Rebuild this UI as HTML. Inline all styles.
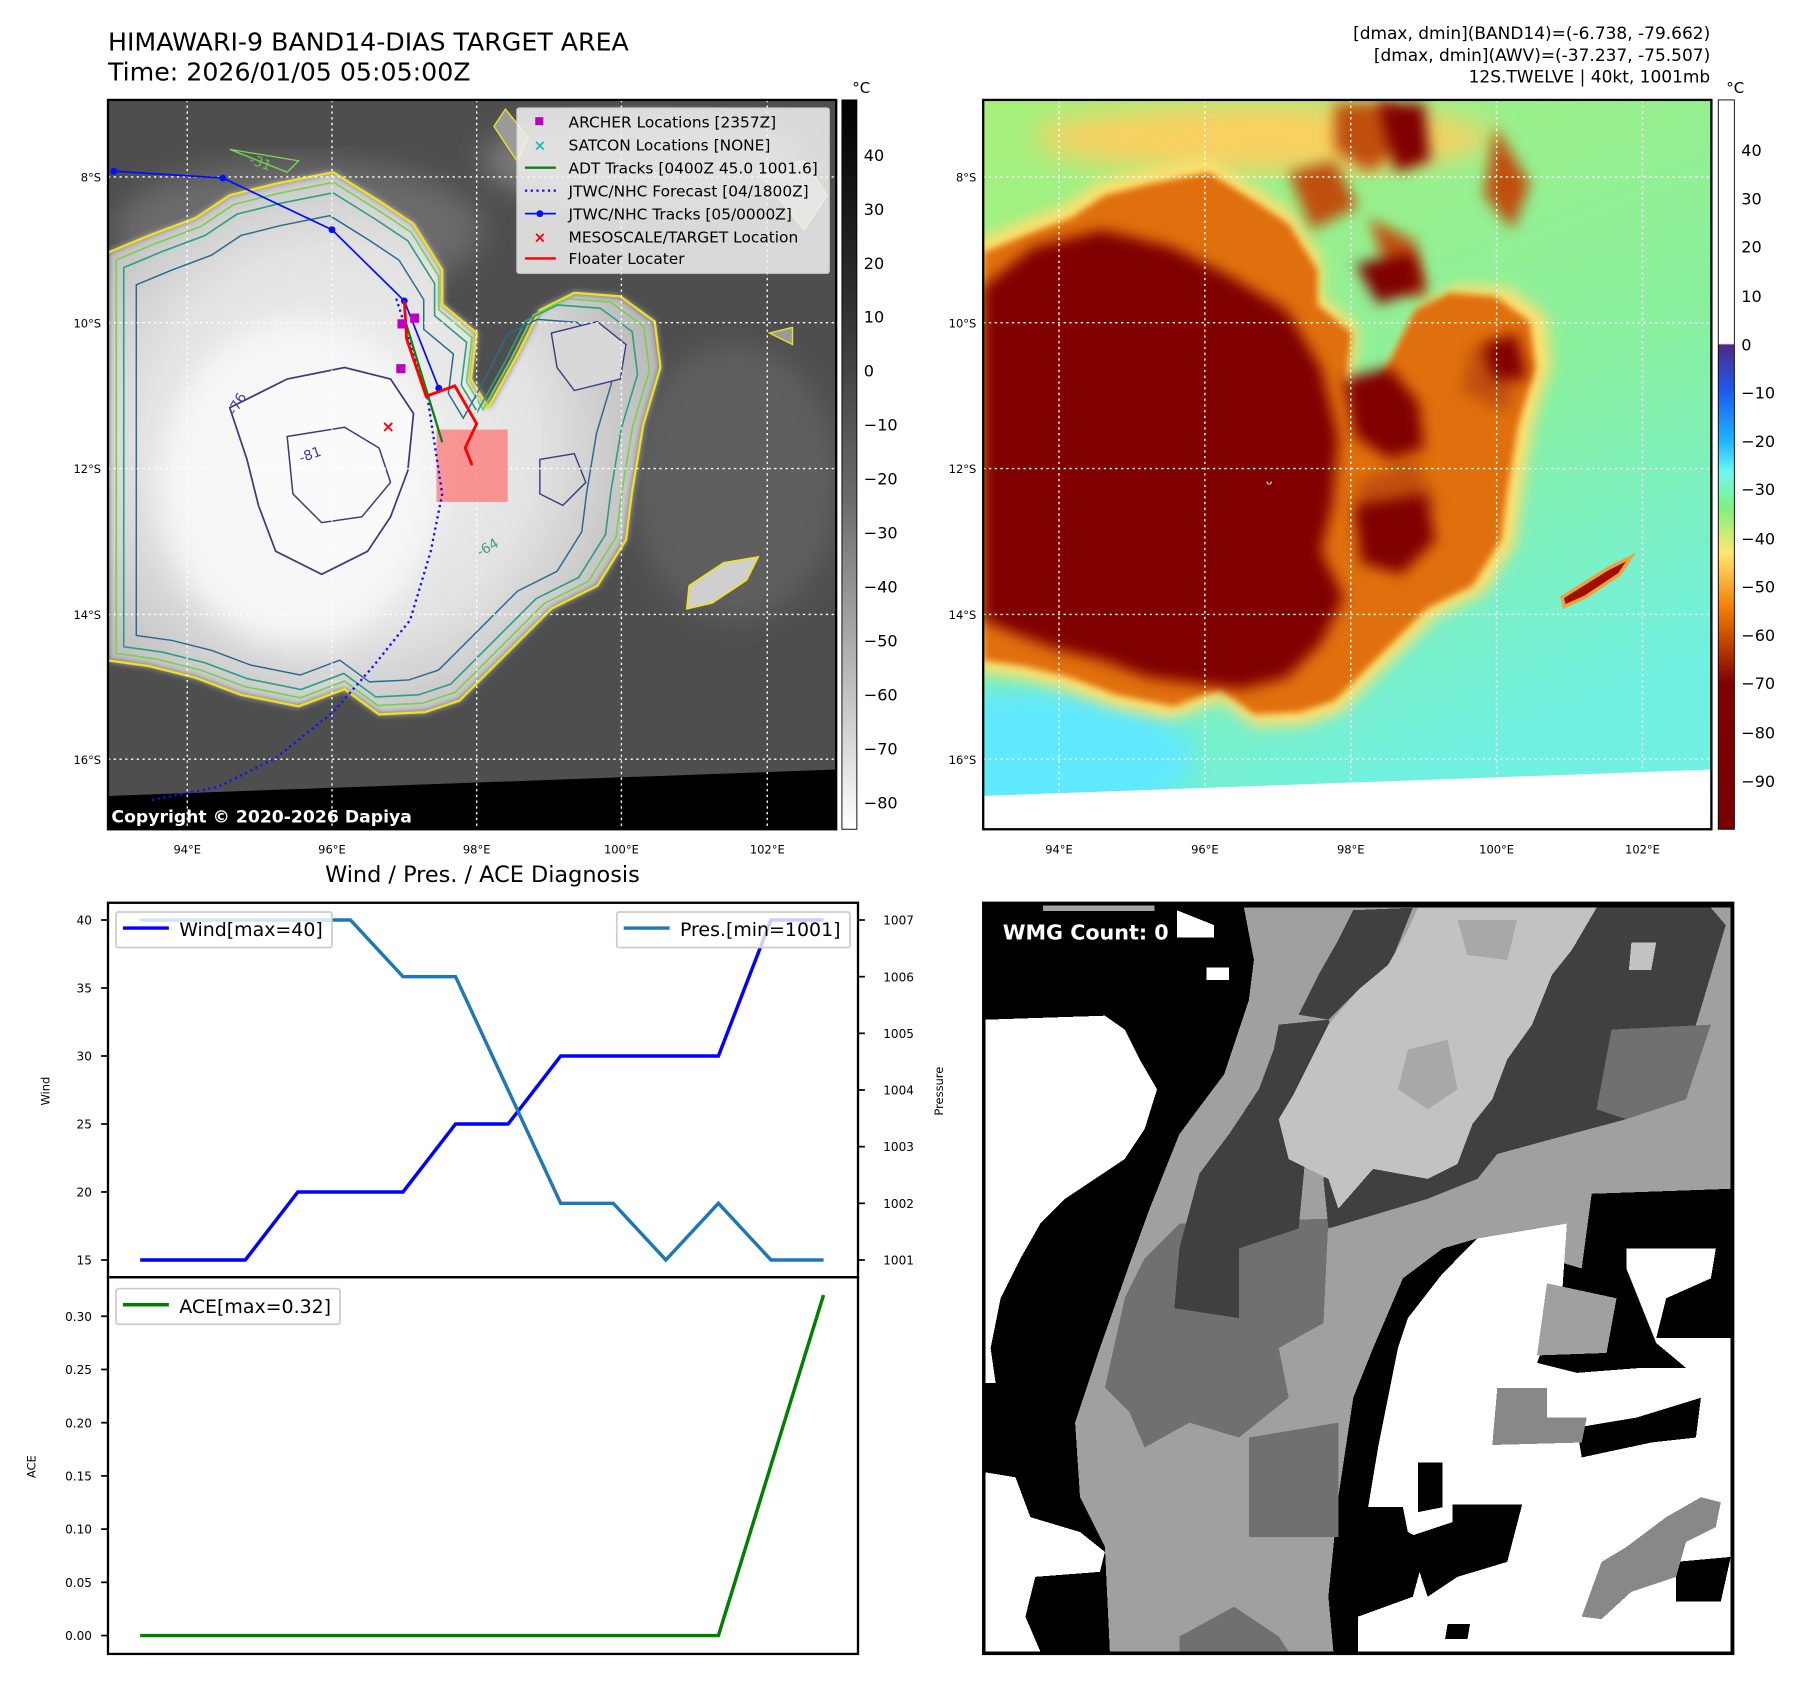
<!DOCTYPE html>
<html><head><meta charset="utf-8"><style>
html,body{margin:0;padding:0;background:#fff}
svg{display:block}
text{font-family:"DejaVu Sans","Liberation Sans",sans-serif}
</style></head><body>
<svg id="fig" width="1801" height="1690" viewBox="0 0 1568 1471.4" xmlns="http://www.w3.org/2000/svg">
<defs>
<filter id="blur3"><feGaussianBlur stdDeviation="3"/></filter>
<filter id="blur6"><feGaussianBlur stdDeviation="6"/></filter>
<filter id="blur12"><feGaussianBlur stdDeviation="12"/></filter>
<radialGradient id="cloudG" cx="0.42" cy="0.5" r="0.6">
<stop offset="0" stop-color="#f4f4f4"/><stop offset="0.6" stop-color="#e2e2e2"/><stop offset="1" stop-color="#b8b8b8"/></radialGradient>
<linearGradient id="cb1" x1="0" y1="0" x2="0" y2="1">
<stop offset="0" stop-color="#000"/><stop offset="0.25" stop-color="#2a2a2a"/><stop offset="0.55" stop-color="#6c6c6c"/><stop offset="1" stop-color="#fff"/></linearGradient>
<linearGradient id="cb2" x1="0" y1="0" x2="0" y2="1">
<stop offset="0" stop-color="#fff"/><stop offset="0.334" stop-color="#fff"/>
<stop offset="0.336" stop-color="#50288a"/><stop offset="0.40" stop-color="#1a5cf0"/>
<stop offset="0.47" stop-color="#20b8ff"/><stop offset="0.51" stop-color="#70f8f0"/>
<stop offset="0.56" stop-color="#80f080"/><stop offset="0.62" stop-color="#ffe870"/>
<stop offset="0.70" stop-color="#f07a00"/><stop offset="0.80" stop-color="#800000"/><stop offset="1" stop-color="#780000"/></linearGradient>
<linearGradient id="bg2" x1="0" y1="0" x2="0.4" y2="1">
<stop offset="0" stop-color="#a8f07a"/><stop offset="0.6" stop-color="#88f0a0"/><stop offset="1" stop-color="#70f0e0"/></linearGradient>
<clipPath id="clip1"><rect x="94" y="87" width="634" height="635"/></clipPath>
<clipPath id="clip2"><rect x="856" y="87" width="634" height="635"/></clipPath>
<path id="cloud" d="M94,220 L130,205 L170,190 L200,170 L240,160 L290,150 L330,175 L360,195 L385,235 L385,265 L415,290 L410,330 L425,355 L450,310 L470,270 L500,255 L540,258 L570,280 L575,320 L560,370 L550,430 L545,470 L520,510 L480,530 L450,560 L420,590 L400,610 L370,620 L330,622 L300,600 L260,615 L210,605 L170,590 L130,580 L94,575 Z"/>
</defs>

<!-- ============ MAP 1 ============ -->
<text x="94" y="44" font-size="22">HIMAWARI-9 BAND14-DIAS TARGET AREA</text>
<text x="94" y="70" font-size="22">Time: 2026/01/05 05:05:00Z</text>
<g clip-path="url(#clip1)">
<rect x="94" y="87" width="634" height="635" fill="#4e4e4e"/>
<ellipse cx="260" cy="200" rx="160" ry="60" fill="#6a6a6a" filter="url(#blur12)"/>
<ellipse cx="640" cy="420" rx="90" ry="120" fill="#5e5e5e" filter="url(#blur12)"/>
<ellipse cx="560" cy="140" rx="140" ry="40" fill="#7a7a7a" filter="url(#blur12)"/>
<use href="#cloud" fill="url(#cloudG)" filter="url(#blur3)"/>
<ellipse cx="260" cy="420" rx="120" ry="140" fill="#f6f6f6" filter="url(#blur12)"/>
<use href="#cloud" fill="none" stroke="#f0e020" stroke-width="2"/>
<use href="#cloud" fill="none" stroke="#7ad050" stroke-width="1.5" transform="translate(300 400) scale(0.965) translate(-300 -400)"/>
<use href="#cloud" fill="none" stroke="#2aa080" stroke-width="1.5" transform="translate(290 405) scale(0.93) translate(-290 -405)"/>
<use href="#cloud" fill="none" stroke="#2a6a90" stroke-width="1.5" transform="translate(270 420) scale(0.86) translate(-270 -420)"/>
<path d="M200,355 L250,330 L300,320 L340,330 L360,360 L355,410 L340,450 L320,480 L280,500 L240,480 L225,440 L215,400 Z" fill="#fafafa" stroke="#3a3a80" stroke-width="1.5"/>
<path d="M250,380 L300,372 L330,390 L340,420 L315,450 L280,455 L255,430 Z" fill="none" stroke="#3a3a80" stroke-width="1.3"/>
<path d="M480,290 L520,280 L545,300 L540,330 L500,340 L485,320 Z" fill="#d8d8d8" stroke="#3a3a80" stroke-width="1.2"/>
<path d="M470,400 L500,395 L510,420 L490,440 L470,430 Z" fill="none" stroke="#3a3a80" stroke-width="1.2"/>
<path d="M600,510 L630,490 L660,485 L650,505 L620,525 L598,530 Z" fill="#cfcfcf" stroke="#f0e020" stroke-width="1.5"/>
<path d="M430,110 L440,95 L460,120 L450,140 Z M660,150 L700,140 L720,170 L700,200 Z M670,290 L690,285 L690,300 Z" fill="#9a9a9a" stroke="#f0e020" stroke-width="1.2"/>
<path d="M200,130 L260,140 L250,150 Z" fill="none" stroke="#7ad050" stroke-width="1.2"/>
<polygon points="94,693 728,670 728,722 94,722" fill="#000"/>
<g stroke="#fff" stroke-width="1.2" stroke-dasharray="2,3">
<line x1="163" y1="87" x2="163" y2="722"/><line x1="289" y1="87" x2="289" y2="722"/><line x1="415" y1="87" x2="415" y2="722"/><line x1="541" y1="87" x2="541" y2="722"/><line x1="668" y1="87" x2="668" y2="722"/>
<line x1="94" y1="154" x2="728" y2="154"/><line x1="94" y1="281" x2="728" y2="281"/><line x1="94" y1="408" x2="728" y2="408"/><line x1="94" y1="535" x2="728" y2="535"/><line x1="94" y1="661" x2="728" y2="661"/>
</g>
<g font-size="12" fill="#4040a0"><text x="205" y="362" transform="rotate(-60 205 362)">-76</text><text x="262" y="403" transform="rotate(-20 262 403)">-81</text><text x="418" y="485" fill="#40a080" transform="rotate(-30 418 485)">-64</text><text x="216" y="142" fill="#70c060" transform="rotate(20 216 142)">-31</text></g>
<rect x="380" y="374" width="62" height="63" fill="rgba(255,90,90,0.6)"/>
<polyline points="345,260 372,345 385,430 375,480 357,540 325,580 290,620 240,660 190,685 130,697" fill="none" stroke="#1010ff" stroke-width="2" stroke-dasharray="2,3"/>
<polyline points="99,149 194,155 289,200 352,262 382,338" fill="none" stroke="#0010ff" stroke-width="1.5"/>
<g fill="#0010ff"><circle cx="99" cy="149" r="3"/><circle cx="194" cy="155" r="3"/><circle cx="289" cy="200" r="3"/><circle cx="352" cy="262" r="3"/><circle cx="382" cy="338" r="3"/></g>
<line x1="353" y1="280" x2="385" y2="385" stroke="#108010" stroke-width="2"/>
<polyline points="352,262 354,295 371,345 396,336 415,369 405,390 411,405" fill="none" stroke="#ff0000" stroke-width="2.5"/>
<g fill="#c000c0"><rect x="346" y="278" width="8" height="8"/><rect x="357" y="273" width="8" height="8"/><rect x="345" y="317" width="8" height="8"/></g>
<text x="338" y="376" font-size="14" fill="#ff0000" text-anchor="middle" font-weight="bold">×</text>
</g>
<rect x="94" y="87" width="634" height="635" fill="none" stroke="#000" stroke-width="2"/>
<text x="97" y="716" font-size="15" font-weight="bold" fill="#fff">Copyright © 2020-2026 Dapiya</text>
<g>
<rect x="450" y="94" width="272" height="144" fill="#f2f2f2" fill-opacity="0.85" stroke="#ccc" rx="2"/>
<g font-size="13.4" fill="#000">
<rect x="466" y="102" width="7" height="7" fill="#c000c0"/><text x="495" y="111">ARCHER Locations [2357Z]</text>
<text x="470" y="131" fill="#10c0c0" font-size="13" text-anchor="middle" font-weight="bold">×</text><text x="495" y="131">SATCON Locations [NONE]</text>
<line x1="457" y1="146" x2="484" y2="146" stroke="#108010" stroke-width="2"/><text x="495" y="151">ADT Tracks [0400Z 45.0 1001.6]</text>
<line x1="457" y1="166" x2="484" y2="166" stroke="#1010ff" stroke-width="2" stroke-dasharray="2,3"/><text x="495" y="171">JTWC/NHC Forecast [04/1800Z]</text>
<line x1="457" y1="186" x2="484" y2="186" stroke="#0010ff" stroke-width="1.5"/><circle cx="470" cy="186" r="3" fill="#0010ff"/><text x="495" y="191">JTWC/NHC Tracks [05/0000Z]</text>
<text x="470" y="211" fill="#ff0000" font-size="13" text-anchor="middle" font-weight="bold">×</text><text x="495" y="211">MESOSCALE/TARGET Location</text>
<line x1="457" y1="225" x2="484" y2="225" stroke="#ff0000" stroke-width="2"/><text x="495" y="230">Floater Locater</text>
</g></g>
<g font-size="10" fill="#000" text-anchor="end">
<text x="88" y="158">8°S</text><text x="88" y="285">10°S</text><text x="88" y="412">12°S</text><text x="88" y="539">14°S</text><text x="88" y="665">16°S</text></g>
<g font-size="10" fill="#000" text-anchor="middle">
<text x="163" y="743">94°E</text><text x="289" y="743">96°E</text><text x="415" y="743">98°E</text><text x="541" y="743">100°E</text><text x="668" y="743">102°E</text></g>
<rect x="733" y="87" width="13" height="635" fill="url(#cb1)" stroke="#000" stroke-width="0.8"/>
<text x="742" y="81" font-size="13">°C</text>
<g font-size="14" fill="#000">
<text x="752" y="140">40</text><text x="752" y="187">30</text><text x="752" y="234">20</text><text x="752" y="281">10</text><text x="752" y="328">0</text><text x="752" y="375">−10</text><text x="752" y="422">−20</text><text x="752" y="469">−30</text><text x="752" y="516">−40</text><text x="752" y="563">−50</text><text x="752" y="610">−60</text><text x="752" y="657">−70</text><text x="752" y="704">−80</text></g>

<!-- ============ MAP 2 ============ -->
<g font-size="14.8" fill="#000" text-anchor="end">
<text x="1489" y="34">[dmax, dmin](BAND14)=(-6.738, -79.662)</text>
<text x="1489" y="53">[dmax, dmin](AWV)=(-37.237, -75.507)</text>
<text x="1489" y="72">12S.TWELVE | 40kt, 1001mb</text></g>
<g clip-path="url(#clip2)">
<rect x="856" y="87" width="634" height="635" fill="url(#bg2)"/>
<ellipse cx="900" cy="660" rx="140" ry="60" fill="#60e8ff" filter="url(#blur12)"/>
<ellipse cx="1100" cy="120" rx="200" ry="30" fill="#f8d060" filter="url(#blur12)"/>
<g transform="translate(762 0)">
<use href="#cloud" fill="#ffe070" filter="url(#blur6)" transform="translate(300 400) scale(1.05) translate(-300 -400)"/>
<use href="#cloud" fill="#e07010" filter="url(#blur3)"/>
<path d="M400,90 L450,90 L470,120 L430,150 L400,130 Z M430,190 L470,210 L480,260 L450,250 Z M540,110 L570,160 L555,200 L530,170 Z M420,420 L470,400 L490,440 L460,470 L420,460 Z M520,300 L560,320 L550,360 L510,340 Z M360,150 L400,140 L420,180 L380,200 Z" fill="#c05008" filter="url(#blur6)"/>
</g>
<path d="M856,250 L900,215 L960,200 L1020,215 L1070,240 L1120,270 L1150,320 L1165,380 L1160,440 L1150,480 L1170,520 L1150,560 L1120,590 L1080,600 L1040,595 L1000,590 L960,575 L920,565 L880,550 L856,540 Z" fill="#800000" filter="url(#blur6)"/>
<path d="M1170,330 L1210,320 L1235,350 L1240,390 L1210,400 L1180,380 Z M1180,440 L1240,430 L1250,470 L1220,500 L1185,490 Z M1200,90 L1240,90 L1245,140 L1215,150 Z M1180,230 L1230,220 L1240,250 L1200,265 Z M1290,300 L1320,290 L1330,330 L1300,330 Z" fill="#800000" filter="url(#blur6)"/>
<path d="M1360,520 L1400,495 L1420,485 L1410,500 L1380,520 L1362,528 Z" fill="#a01000" stroke="#f0a040" stroke-width="3"/>
<polygon points="856,693 1490,670 1490,722 856,722" fill="#fff"/>
<g stroke="#fff" stroke-width="1.2" stroke-dasharray="2,3">
<line x1="922" y1="87" x2="922" y2="722"/><line x1="1049" y1="87" x2="1049" y2="722"/><line x1="1176" y1="87" x2="1176" y2="722"/><line x1="1303" y1="87" x2="1303" y2="722"/><line x1="1430" y1="87" x2="1430" y2="722"/>
<line x1="856" y1="154" x2="1490" y2="154"/><line x1="856" y1="281" x2="1490" y2="281"/><line x1="856" y1="408" x2="1490" y2="408"/><line x1="856" y1="535" x2="1490" y2="535"/><line x1="856" y1="661" x2="1490" y2="661"/>
</g>
<text x="1105" y="422" fill="#fff" font-size="9" text-anchor="middle">ᴗ</text>
</g>
<rect x="856" y="87" width="634" height="635" fill="none" stroke="#000" stroke-width="2"/>
<g font-size="10" fill="#000" text-anchor="end">
<text x="850" y="158">8°S</text><text x="850" y="285">10°S</text><text x="850" y="412">12°S</text><text x="850" y="539">14°S</text><text x="850" y="665">16°S</text></g>
<g font-size="10" fill="#000" text-anchor="middle">
<text x="922" y="743">94°E</text><text x="1049" y="743">96°E</text><text x="1176" y="743">98°E</text><text x="1303" y="743">100°E</text><text x="1430" y="743">102°E</text></g>
<rect x="1496" y="87" width="14" height="635" fill="url(#cb2)" stroke="#000" stroke-width="0.8"/>
<text x="1503" y="81" font-size="13">°C</text>
<g font-size="14" fill="#000">
<text x="1516" y="136">40</text><text x="1516" y="178">30</text><text x="1516" y="220">20</text><text x="1516" y="263">10</text><text x="1516" y="305">0</text><text x="1516" y="347">−10</text><text x="1516" y="389">−20</text><text x="1516" y="431">−30</text><text x="1516" y="474">−40</text><text x="1516" y="516">−50</text><text x="1516" y="558">−60</text><text x="1516" y="600">−70</text><text x="1516" y="643">−80</text><text x="1516" y="685">−90</text></g>

<!-- ============ WMG image ============ -->
<svg x="856" y="786" width="653" height="654" viewBox="5 5 1510 1510" preserveAspectRatio="none" shape-rendering="crispEdges">
<rect x="5" y="5" width="1510" height="1510" fill="#000"/>
<polygon points="10,240 250,232 290,260 320,320 355,380 330,460 290,520 230,560 170,600 120,650 80,720 40,800 20,900 30,970 10,970" fill="#fff"/>
<polygon points="10,1150 70,1160 100,1240 200,1270 250,1310 240,1350 110,1360 90,1440 120,1510 10,1510" fill="#fff"/>
<polygon points="530,15 1510,15 1510,580 1230,590 1210,740 1000,680 930,700 850,760 790,900 750,1000 720,1200 700,1400 710,1510 260,1510 250,1300 200,1200 190,1050 240,900 300,730 340,620 400,470 490,350 540,200 550,120" fill="#a0a0a0"/>
<polygon points="330,720 400,650 700,640 690,850 600,900 620,1000 520,1080 420,1050 330,1100 300,1030 250,980 290,800" fill="#707070"/>
<polygon points="540,1080 720,1050 720,1280 540,1280" fill="#707070"/>
<polygon points="400,1480 510,1420 600,1480 620,1510 400,1510" fill="#707070"/>
<polygon points="1160,15 1470,15 1500,50 1440,250 1410,400 1300,440 1150,480 1040,510 1000,560 900,600 700,660 690,560 720,480 800,420 880,300 1000,170 1100,100" fill="#404040"/>
<polygon points="600,250 700,240 720,300 660,450 640,660 520,700 520,840 390,820 400,700 440,550 500,470 560,380 590,300" fill="#404040"/>
<polygon points="750,20 870,15 820,140 760,180 700,240 640,230 680,150 720,80" fill="#404040"/>
<polygon points="1270,260 1470,250 1420,400 1300,440 1240,420" fill="#707070"/>
<polygon points="880,15 1240,15 1190,100 1150,150 1110,250 1060,320 1030,400 990,450 960,530 900,560 790,540 720,620 700,560 620,520 600,440 630,390 700,250 760,180 820,130 860,60" fill="#c2c2c2"/>
<polygon points="860,300 940,280 960,380 900,420 840,380" fill="#a8a8a8"/>
<polygon points="960,40 1080,40 1060,120 980,110" fill="#a8a8a8"/>
<polygon points="1310,85 1360,85 1350,140 1305,140" fill="#c2c2c2"/>
<polygon points="1000,680 1180,650 1170,800 1120,930 1200,950 1330,940 1510,940 1510,1510 760,1510 760,1440 870,1400 900,1290 860,1270 850,1220 780,1220 800,1100 840,900 860,840 930,750" fill="#fff"/>
<polygon points="1300,700 1480,700 1470,760 1380,800 1360,880 1510,880 1510,940 1420,940 1360,890 1300,740" fill="#fff"/>
<polygon points="1140,770 1280,800 1260,910 1120,915" fill="#a0a0a0"/>
<polygon points="880,1130 930,1130 930,1220 880,1230" fill="#000"/>
<polygon points="950,1215 1090,1215 1060,1330 960,1360 900,1400 860,1280 950,1250" fill="#000"/>
<polygon points="1200,1060 1320,1040 1450,1000 1440,1080 1350,1090 1210,1120" fill="#000"/>
<polygon points="1400,1330 1510,1320 1490,1410 1400,1410" fill="#000"/>
<polygon points="940,1455 985,1455 980,1485 935,1485" fill="#000"/>
<polygon points="1040,980 1140,980 1140,1040 1220,1040 1210,1090 1030,1095" fill="#888"/>
<polygon points="1210,1440 1250,1330 1300,1300 1380,1240 1450,1200 1490,1210 1480,1260 1420,1290 1400,1360 1310,1390 1250,1445" fill="#888"/>
<polygon points="395,20 470,50 470,75 395,75" fill="#fff"/>
<polygon points="455,135 500,135 500,160 455,160" fill="#fff"/>
<polygon points="125,10 350,10 350,22 125,22" fill="#a0a0a0"/>
</svg>
<rect x="856" y="786" width="653" height="654" fill="none" stroke="#000" stroke-width="2"/>
<text x="873" y="818" font-size="18" font-weight="bold" fill="#fff">WMG Count: 0</text>

<!-- ============ CHART ============ -->
<text x="420" y="768" font-size="19.5" text-anchor="middle">Wind / Pres. / ACE Diagnosis</text>
<g id="chart"></g>
</svg>
<script>
const idx = [0,1,2,3,4,5,6,7,8,9,10,11,12,13];
const windVals = [15,15,15,20,20,20,25,25,30,30,30,30,40,40];
const presVals = [1007,1007,1007,1007,1007,1006,1006,1004,1002,1002,1001,1002,1001,1001];
const aceVals = [0,0,0,0,0,0,0,0,0,0,0,0,0.16,0.32];
const windTicks = [15,20,25,30,35,40];
const presTicks = [1001,1002,1003,1004,1005,1006,1007];
const aceTicks = [0,0.05,0.10,0.15,0.20,0.25,0.30];

const NS = 'http://www.w3.org/2000/svg';
const g = document.getElementById('chart');
const X0 = 94, X1 = 747, TOP = 786, MID = 1112, BOT = 1440;
function xs(i){ return 122 + i * (717 - 122) / (idx.length - 1); }
function yWind(v){ return 1097 - (v - 15) * 296 / 25; }
function yPres(p){ return 1097 - (p - 1001) * 296 / 6; }
function yAce(v){ return 1424 - v * 278 / 0.30; }
function mk(tag, attrs, parent){
  const e = document.createElementNS(NS, tag);
  for (const k in attrs) e.setAttribute(k, attrs[k]);
  (parent || g).appendChild(e);
  return e;
}
function txt(s, x, y, size, anchor, extra){
  const t = mk('text', Object.assign({x:x, y:y, 'font-size':size, 'text-anchor':anchor||'start'}, extra||{}));
  t.textContent = s;
  return t;
}
mk('rect', {x:X0, y:TOP, width:X1-X0, height:MID-TOP, fill:'#fff'});
mk('rect', {x:X0, y:MID, width:X1-X0, height:BOT-MID, fill:'#fff'});

windTicks.forEach(v => {
  const y = yWind(v);
  mk('line', {x1:X0-6, y1:y, x2:X0, y2:y, stroke:'#000', 'stroke-width':1.5});
  const t = txt(String(v), 80, y+4, 10.5, 'end');
  
  
});
presTicks.forEach(p => {
  const y = yPres(p);
  mk('line', {x1:X1, y1:y, x2:X1+6, y2:y, stroke:'#000', 'stroke-width':1.5});
  const t = txt(String(p), 769, y+4, 10.5, 'start');
  
  
});
aceTicks.forEach(v => {
  const y = yAce(v);
  mk('line', {x1:X0-6, y1:y, x2:X0, y2:y, stroke:'#000', 'stroke-width':1.5});
  const t = txt(v.toFixed(2), 80, y+4, 10.5, 'end');
  
  
});
const wl = txt('Wind', 43, 950, 10, 'middle', {transform:'rotate(-90 43 950)'});


const pl = txt('Pressure', 821, 950, 10, 'middle', {transform:'rotate(-90 821 950)'});


const al = txt('ACE', 31, 1277, 10, 'middle', {transform:'rotate(-90 31 1277)'});



const wp = mk('polyline', {points: idx.map(i => xs(i)+','+yWind(windVals[i])).join(' '), fill:'none', stroke:'#0000ff', 'stroke-width':3});


const pp = mk('polyline', {points: idx.map(i => xs(i)+','+yPres(presVals[i])).join(' '), fill:'none', stroke:'#1f77b4', 'stroke-width':3});


const ap = mk('polyline', {points: idx.map(i => xs(i)+','+yAce(aceVals[i])).join(' '), fill:'none', stroke:'#008000', 'stroke-width':3});



const lw = mk('g', {});


mk('rect', {x:101, y:794, width:188, height:31, fill:'#fff', 'fill-opacity':0.8, stroke:'#ccc', 'stroke-width':1.5, rx:2}, lw);
mk('line', {x1:107, y1:808, x2:147, y2:808, stroke:'#0000ff', 'stroke-width':3}, lw);
const wt = mk('text', {x:156, y:815, 'font-size':16.5}, lw); wt.textContent = 'Wind[max=' + Math.max(...windVals) + ']';
const lp = mk('g', {});


mk('rect', {x:537, y:794, width:203, height:31, fill:'#fff', 'fill-opacity':0.8, stroke:'#ccc', 'stroke-width':1.5, rx:2}, lp);
mk('line', {x1:543, y1:808, x2:583, y2:808, stroke:'#1f77b4', 'stroke-width':3}, lp);
const pt = mk('text', {x:592, y:815, 'font-size':16.5}, lp); pt.textContent = 'Pres.[min=' + Math.min(...presVals) + ']';
const la = mk('g', {});


mk('rect', {x:101, y:1122, width:195, height:31, fill:'#fff', 'fill-opacity':0.8, stroke:'#ccc', 'stroke-width':1.5, rx:2}, la);
mk('line', {x1:107, y1:1136, x2:147, y2:1136, stroke:'#008000', 'stroke-width':3}, la);
const at = mk('text', {x:156, y:1143, 'font-size':16.5}, la); at.textContent = 'ACE[max=' + Math.max(...aceVals) + ']';

mk('rect', {x:X0, y:TOP, width:X1-X0, height:MID-TOP, fill:'none', stroke:'#000', 'stroke-width':2});
mk('rect', {x:X0, y:MID, width:X1-X0, height:BOT-MID, fill:'none', stroke:'#000', 'stroke-width':2});
</script>
</body></html>
